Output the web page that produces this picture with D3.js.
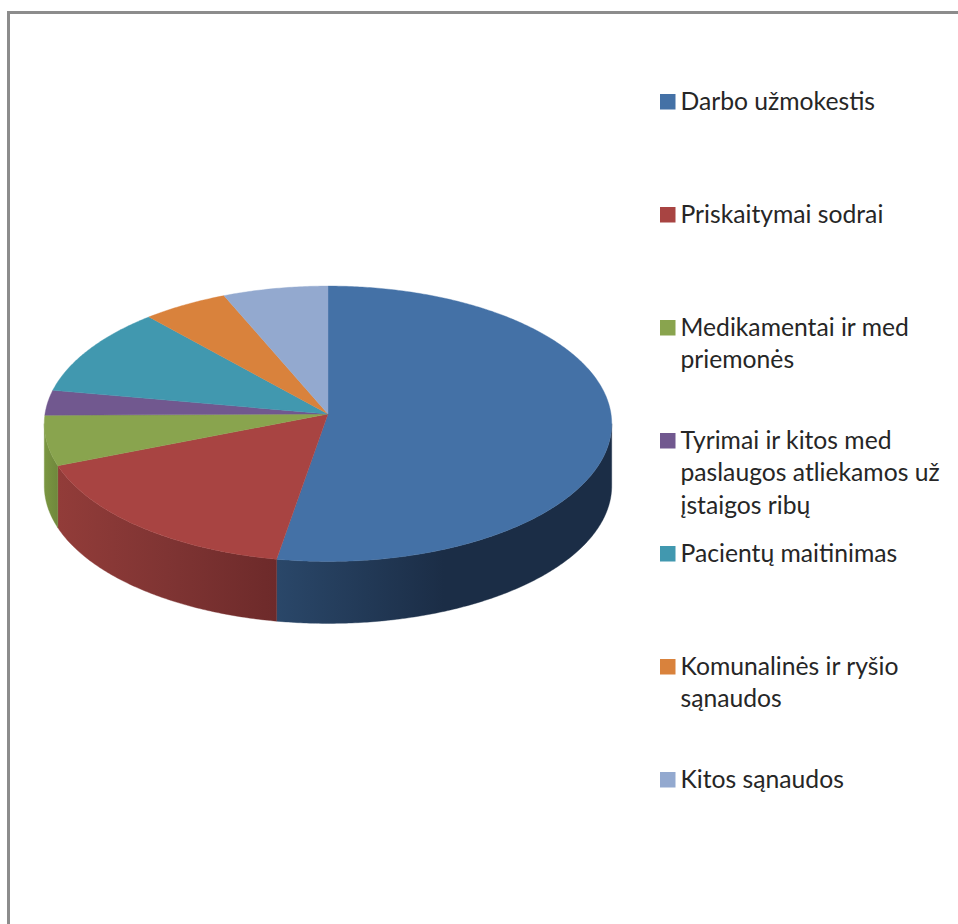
<!DOCTYPE html>
<html>
<head>
<meta charset="utf-8">
<script src="https://cdnjs.cloudflare.com/ajax/libs/d3/7.8.5/d3.min.js"></script>
<style>
    html, body { margin: 0; padding: 0; background: #fff; overflow: hidden; }
    svg { display: block; }
    .legend text { font-family: Lato, "Open Sans", sans-serif; font-size: 24.7px; fill: #262626; }
</style>
</head>
<body>
<div id="chart"></div>
<script>
// Values (share of the pie, %)
const categories = [
    ["Darbo užmokestis"],
    ["Priskaitymai sodrai"],
    ["Medikamentai ir med", "priemonės"],
    ["Tyrimai ir kitos med", "paslaugos atliekamos už", "įstaigos ribų"],
    ["Pacientų maitinimas"],
    ["Komunalinės ir ryšio", "sąnaudos"],
    ["Kitos sąnaudos"]
];
const values = [52.7, 16.3, 5.85, 2.95, 10.6, 5.2, 6.4];
const colors = ["#4471a6", "#a84442", "#89a44e", "#71588f", "#4198af", "#d9823c", "#93a9cf"];
// Side wall shading, left to right
const sideColors = [
    ["#2a4769", "#1b2d46", "#1b2d46"],
    ["#923c39", "#7f3433", "#6d2a2a"],
    ["#7a9641", "#758f3f", "#6f883c"]
];

const width = 958, height = 924;

const svg = d3.select("#chart").append("svg")
    .attr("width", width)
    .attr("height", height);

// Chart frame, only the left and top edges are in the picture
svg.append("path")
    .attr("d", d3.line()([[8.5, height], [8.5, 12.5], [width, 12.5]]))
    .attr("fill", "none")
    .attr("stroke", "#8c8c8c")
    .attr("stroke-width", 3);

// Tilted pie: a circle seen in perspective, apex sits above the ellipse centre
const pie3d = { cx: 328, cy: 414, rx: 283, ry: 137, persp: -0.0708, depth: 62 };

function project(angle, r = 1) {
    const u = Math.sin(angle) * r, v = -Math.cos(angle) * r;
    const w = 1 + pie3d.persp * v;
    return [pie3d.cx + pie3d.rx * u / w, pie3d.cy + pie3d.ry * v / w];
}

function arcPoints(a0, a1) {
    const n = Math.max(2, Math.ceil((a1 - a0) / 0.01));
    return d3.range(n + 1).map(i => project(a0 + (a1 - a0) * i / n));
}

const arcs = d3.pie().sort(null).value(d => d)(values);
const line = d3.line();
const color = d3.scaleOrdinal().domain(d3.range(values.length)).range(colors);

// Only the near half of the wall shows
const sideStart = Math.PI / 2 + 0.07, sideEnd = 3 * Math.PI / 2 - 0.07;

const defs = svg.append("defs");
const sides = svg.append("g");

arcs.forEach((d, i) => {
    const a0 = Math.max(d.startAngle, sideStart), a1 = Math.min(d.endAngle, sideEnd);
    if (a1 <= a0) return;
    const topEdge = arcPoints(a0, a1);
    const bottomEdge = topEdge.map(p => [p[0], p[1] + pie3d.depth]).reverse();
    const xs = d3.extent(topEdge, p => p[0]);

    const grad = defs.append("linearGradient")
        .attr("id", "side" + i)
        .attr("gradientUnits", "userSpaceOnUse")
        .attr("x1", xs[0]).attr("x2", xs[1])
        .attr("y1", 0).attr("y2", 0);
    sideColors[i].forEach((c, k) => {
        grad.append("stop").attr("offset", k / 2).attr("stop-color", c);
    });

    sides.append("path")
        .attr("d", line(topEdge.concat(bottomEdge)) + "Z")
        .attr("fill", `url(#side${i})`)
        .attr("stroke", `url(#side${i})`)
        .attr("stroke-width", 0.4);
});

// Top face
svg.append("g").selectAll("path")
    .data(arcs)
    .enter().append("path")
    .attr("d", d => line([[pie3d.cx, pie3d.cy]].concat(arcPoints(d.startAngle, d.endAngle))) + "Z")
    .attr("fill", (d, i) => color(i))
    .attr("stroke", (d, i) => color(i))
    .attr("stroke-width", 0.4);

// Legend
const legendY = d3.scaleLinear().domain([0, 6]).range([94, 772]);
const lineHeight = 32.5;

const legend = svg.append("g").attr("class", "legend")
    .selectAll("g")
    .data(categories)
    .enter().append("g")
    .attr("transform", (d, i) => `translate(660,${legendY(i)})`);

legend.append("rect")
    .attr("width", 15.5)
    .attr("height", 15.5)
    .attr("fill", (d, i) => color(i));

legend.selectAll("text")
    .data(d => d)
    .enter().append("text")
    .attr("x", 20.5)
    .attr("y", (d, i) => 15.5 + i * lineHeight)
    .text(d => d);
</script>
</body>
</html>
